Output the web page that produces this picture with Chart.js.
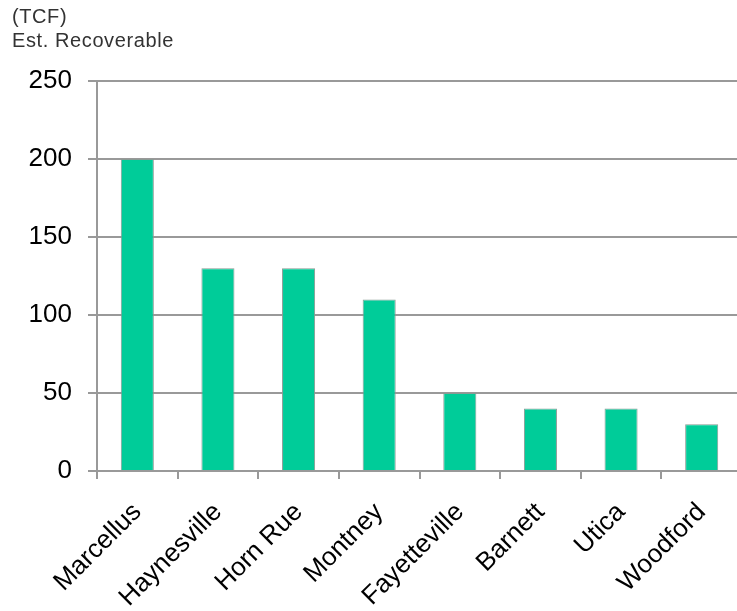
<!DOCTYPE html>
<html>
<head>
<meta charset="utf-8">
<script src="https://cdn.jsdelivr.net/npm/chart.js@4.4.0/dist/chart.umd.min.js"></script>
<style>
  html, body { margin: 0; padding: 0; background: #fff; overflow: hidden; width: 737px; height: 611px; }
  #wrap { position: absolute; left: 0; top: 0; width: 760px; height: 611px; }
  .t { position: absolute; left: 12px; font-family: "Liberation Sans", Arial, sans-serif; font-size: 20px; letter-spacing: 0.6px; color: #333; line-height: 24px; white-space: nowrap; }
</style>
</head>
<body>
<div id="wrap"><canvas id="c" width="760" height="611"></canvas></div>
<div class="t" style="top:4px;">(TCF)</div>
<div class="t" style="top:28px;">Est. Recoverable</div>
<script>
const categories = ["Marcellus", "Haynesville", "Horn Rue", "Montney", "Fayetteville", "Barnett", "Utica", "Woodford"];
const values = [200, 130, 130, 110, 50, 40, 40, 30];
const yTicks = [0, 50, 100, 150, 200, 250];

const ctx = document.getElementById('c').getContext('2d');
new Chart(ctx, {
  type: 'bar',
  data: {
    labels: categories,
    datasets: [{
      data: values,
      backgroundColor: '#00CC99',
      borderColor: '#8a9a94',
      borderWidth: 1,
      categoryPercentage: 1.0,
      barPercentage: 0.41
    }]
  },
  options: {
    responsive: false,
    animation: false,
    devicePixelRatio: 1,
    layout: { padding: { top: 81, right: 18, left: 0, bottom: 0 } },
    plugins: { legend: { display: false }, tooltip: { enabled: false } },
    scales: {
      x: {
        offset: true,
        grid: { display: true, drawOnChartArea: false, drawTicks: true, tickLength: 8, color: '#999', lineWidth: 2, offset: true },
        border: { display: true, color: '#999', width: 2 },
        ticks: {
          color: '#000',
          font: { family: '"Liberation Sans", Arial, sans-serif', size: 26 },
          minRotation: 45, maxRotation: 45,
          padding: 18,
          autoSkip: false
        },
        afterFit: (s) => { s.height = 140; }
      },
      y: {
        min: 0, max: 250,
        afterBuildTicks: (s) => { s.ticks = yTicks.map(v => ({ value: v })); },
        grid: { color: '#999', lineWidth: 2, tickLength: 9 },
        border: { display: true, color: '#999', width: 2 },
        ticks: {
          color: '#000',
          font: { family: '"Liberation Sans", Arial, sans-serif', size: 26 },
          padding: 16
        },
        afterFit: (s) => { s.width = 97; }
      }
    }
  }
});
</script>
</body>
</html>
